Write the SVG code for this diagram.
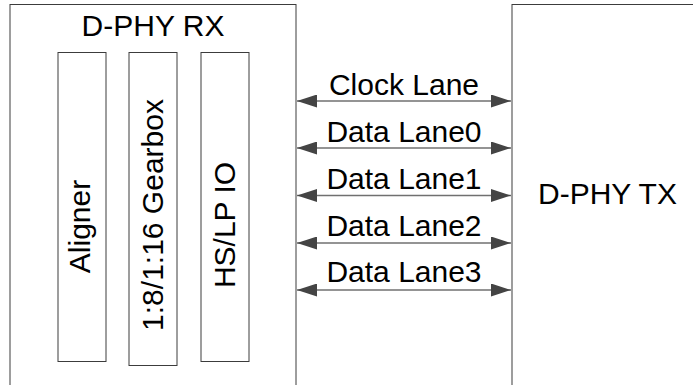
<svg xmlns="http://www.w3.org/2000/svg" width="693" height="385" viewBox="0 0 693 385">
<style>
.box{fill:#ffffff;stroke:#3c3c3c;stroke-width:1}
.t{font-family:"Liberation Sans",Arial,sans-serif;font-size:30px;fill:#000000;text-anchor:middle}
.lane{stroke:#707070;stroke-width:1.5;fill:none;marker-start:url(#ah);marker-end:url(#ah)}
</style>
<defs>
<marker id="ah" viewBox="0 0 20 13" refX="20" refY="6.5" markerWidth="20" markerHeight="13" markerUnits="userSpaceOnUse" orient="auto-start-reverse">
<path d="M0,0 L20,6.5 L0,13 Z" fill="#444444"/>
</marker>
</defs>
<rect width="693" height="385" fill="#ffffff"/>
<g id="rx">
<rect class="box" x="10" y="4.5" width="286" height="400"/>
<text class="t" x="153" y="36">D-PHY RX</text>
</g>
<g id="aligner">
<rect class="box" x="58" y="52.5" width="48" height="309"/>
<text class="t" transform="translate(90,226.5) rotate(-90)">Aligner</text>
</g>
<g id="gearbox">
<rect class="box" x="129" y="52.5" width="48" height="313"/>
<text class="t" transform="translate(162.5,215) rotate(-90)">1:8/1:16 Gearbox</text>
</g>
<g id="hslpio">
<rect class="box" x="201" y="52.5" width="48" height="309"/>
<text class="t" transform="translate(235,225) rotate(-90)">HS/LP IO</text>
</g>
<g id="tx">
<rect class="box" x="512" y="4.5" width="200" height="400"/>
<text class="t" x="607.5" y="204">D-PHY TX</text>
</g>
<g id="connectors">
<line class="lane" x1="297" y1="101" x2="511" y2="101"/>
<line class="lane" x1="297" y1="148" x2="511" y2="148"/>
<line class="lane" x1="297" y1="195.5" x2="511" y2="195.5"/>
<line class="lane" x1="297" y1="243" x2="511" y2="243"/>
<line class="lane" x1="297" y1="290" x2="511" y2="290"/>
<text class="t" x="404" y="95">Clock Lane</text>
<text class="t" x="404" y="141.7">Data Lane0</text>
<text class="t" x="404" y="188.5">Data Lane1</text>
<text class="t" x="404" y="236">Data Lane2</text>
<text class="t" x="404" y="282">Data Lane3</text>
</g>
</svg>
